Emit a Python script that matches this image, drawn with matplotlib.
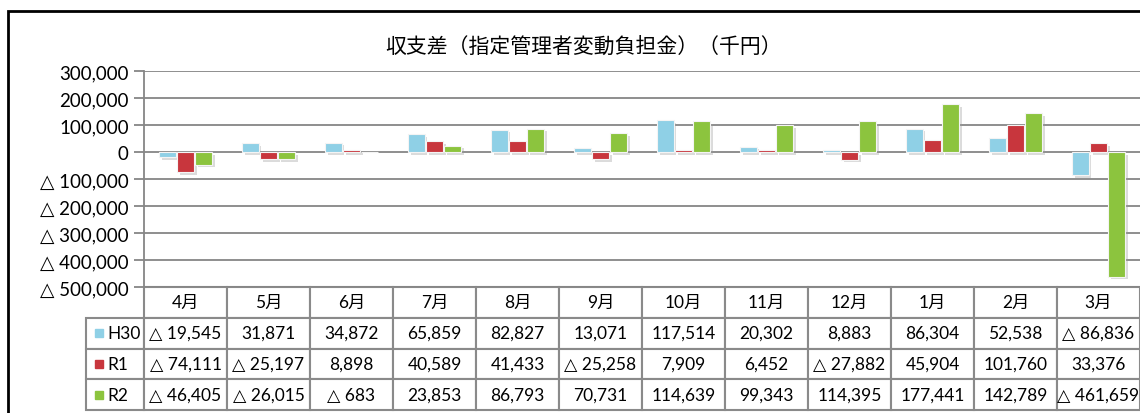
import matplotlib
matplotlib.use('Agg')
import matplotlib.pyplot as plt
import matplotlib.patches as mpatches
import matplotlib.patheffects as pe
from matplotlib.ticker import FuncFormatter
import numpy as np

plt.rcParams['font.family'] = ['Lato', 'DejaVu Sans', 'Noto Sans CJK JP']

# データ
months = ['4月', '5月', '6月', '7月', '8月', '9月', '10月', '11月', '12月', '1月', '2月', '3月']
series_names = ['H30', 'R1', 'R2']
h30 = [-19545, 31871, 34872, 65859, 82827, 13071, 117514, 20302, 8883, 86304, 52538, -86836]
r1 = [-74111, -25197, 8898, 40589, 41433, -25258, 7909, 6452, -27882, 45904, 101760, 33376]
r2 = [-46405, -26015, -683, 23853, 86793, 70731, 114639, 99343, 114395, 177441, 142789, -461659]
colors = ['#8fd0e6', '#c8363d', '#8cc43e']


def fmt(v, pos=None):
    ## 負の数は「△」で表示
    if v < 0:
        return '△ {:,.0f}'.format(abs(v))
    return '{:,.0f}'.format(v)


fig = plt.figure(figsize=(11.4, 4.14), dpi=100)
ax = fig.add_axes([144 / 1140, (414 - 288) / 414, 996 / 1140, 216 / 414])

x = np.arange(len(months))
width = 0.2
offsets = [-0.22, 0.0, 0.22]
shadow = [pe.SimplePatchShadow(offset=(2, -2), shadow_rgbFace='#999999', alpha=0.35), pe.Normal()]
for vals, off, c in zip([h30, r1, r2], offsets, colors):
    bars = ax.bar(x + off, vals, width, color=c, edgecolor='#f4f4f4', linewidth=0.8, zorder=3)
    for b in bars:
        b.set_path_effects(shadow)

ax.set_xlim(-0.5, len(months) - 0.5)
ax.set_ylim(-500000, 300000)
ax.set_yticks(np.arange(-500000, 300001, 100000))
ax.yaxis.set_major_formatter(FuncFormatter(fmt))
ax.tick_params(axis='y', labelsize=13.5, length=7, width=1.3, color='#868686', pad=4)
ax.set_xticks([])
ax.grid(axis='y', color='#868686', linewidth=1.3, zorder=0)
for s in ['top', 'right', 'bottom']:
    ax.spines[s].set_visible(False)
ax.spines['left'].set_color('#868686')
ax.spines['left'].set_linewidth(1.3)

# データテーブル
cell_text = [[fmt(v) for v in vals] for vals in [h30, r1, r2]]
lab_w = 57 / 996
tb_h = 123 / 216
tbl = ax.table(cellText=cell_text, rowLabels=series_names, colLabels=months,
               colWidths=[1 / 12] * 12, cellLoc='center', rowLoc='left',
               bbox=[0, -tb_h, 1, tb_h])
tbl.auto_set_font_size(False)
tbl.set_fontsize(12.5)
for (r, c), cell in tbl.get_celld().items():
    cell.set_edgecolor('#8a8a8a')
    cell.set_linewidth(1.5)
    if c == -1:
        cell.set_width(lab_w)
        cell.PAD = 0.37

# 凡例の色見本
row_h = tb_h / 4
for i, c in enumerate(colors):
    yc = -row_h * (1.5 + i)
    ax.add_patch(mpatches.Rectangle(((95 - 144) / 996, yc - 4 / 216), 8 / 996, 8 / 216,
                                    transform=ax.transAxes, color=c, clip_on=False, zorder=5))

fig.text(584 / 1140, (414 - 47) / 414, '収支差（指定管理者変動負担金）（千円）', ha='center', va='center',
         fontsize=15, family=['Noto Sans CJK JP'])

# 外枠
fig.add_artist(mpatches.Rectangle((8 / 1140, -0.1), 1.2, (414 - 12) / 414 + 0.1,
                                  transform=fig.transFigure, fill=False, edgecolor='black', linewidth=2))

plt.savefig('out.png', dpi=100)
